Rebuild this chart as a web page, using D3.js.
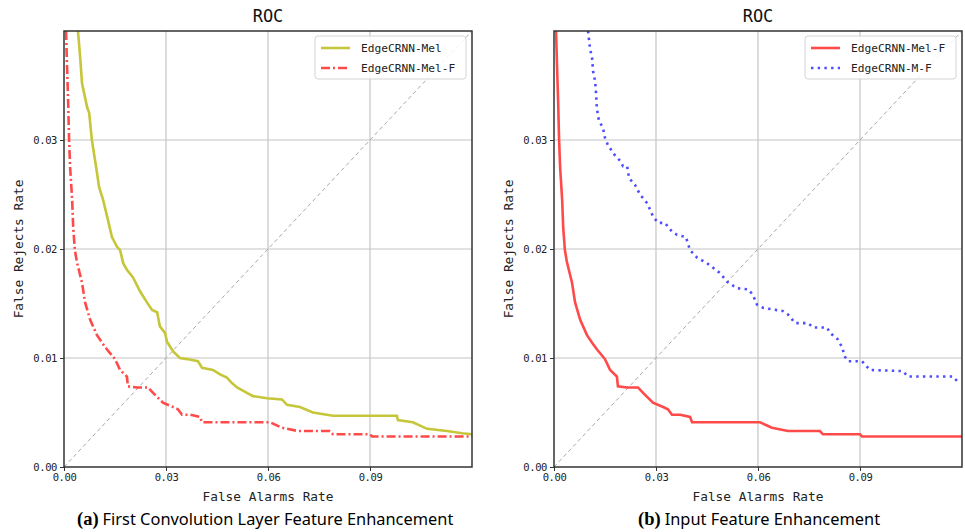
<!DOCTYPE html>
<html>
<head>
<meta charset="utf-8">
<script src="https://cdn.jsdelivr.net/npm/d3@7"></script>
<style>
  body { margin: 0; background: #fff; }
  svg { display: block; }
</style>
</head>
<body>
<div id="chart-container"></div>
<script>
// axis ticks
const xTicks = [0, 0.03, 0.06, 0.09];
const yTicks = [0, 0.01, 0.02, 0.03];

// EdgeCRNN-Mel  [false alarms, false rejects]
const edgeMel = [
  [0.0041, 0.0400], [0.0047, 0.0378], [0.0053, 0.0352], [0.0068, 0.0330],
  [0.0074, 0.0325], [0.0082, 0.0300], [0.0097, 0.0270], [0.0103, 0.0257],
  [0.0115, 0.0245], [0.0129, 0.0227], [0.0141, 0.0211], [0.0156, 0.0202],
  [0.0165, 0.0199], [0.0174, 0.0187], [0.0185, 0.0181], [0.0203, 0.0174],
  [0.0224, 0.0161], [0.0244, 0.0151], [0.0259, 0.0144], [0.0274, 0.0142],
  [0.0282, 0.0129], [0.0297, 0.0123], [0.0303, 0.0115], [0.0321, 0.0106],
  [0.0341, 0.0100], [0.0362, 0.0099], [0.0394, 0.0097], [0.0406, 0.0091],
  [0.0438, 0.0089], [0.0459, 0.0085], [0.0479, 0.0082], [0.0494, 0.0077],
  [0.0509, 0.0073], [0.0538, 0.0068], [0.0556, 0.0065], [0.0597, 0.0063],
  [0.0641, 0.0062], [0.0656, 0.0057], [0.0694, 0.0055], [0.0732, 0.0050],
  [0.0791, 0.0047], [0.0979, 0.0047], [0.0982, 0.0043], [0.1026, 0.0041],
  [0.1068, 0.0035], [0.1126, 0.0033], [0.1171, 0.0031], [0.1200, 0.0030]
];

// EdgeCRNN-Mel-F
const edgeMelF = [
  [0.0006, 0.0400], [0.0009, 0.0367], [0.0012, 0.0337], [0.0015, 0.0300],
  [0.0018, 0.0275], [0.0024, 0.0245], [0.0027, 0.0220], [0.0032, 0.0199],
  [0.0038, 0.0188], [0.0053, 0.0169], [0.0062, 0.0151], [0.0077, 0.0135],
  [0.0097, 0.0121], [0.0112, 0.0114], [0.0126, 0.0108], [0.0150, 0.0099],
  [0.0165, 0.0089], [0.0185, 0.0083], [0.0188, 0.0074], [0.0215, 0.0073],
  [0.0247, 0.0073], [0.0262, 0.0068], [0.0291, 0.0059], [0.0321, 0.0055],
  [0.0335, 0.0053], [0.0347, 0.0048], [0.0371, 0.0048], [0.0400, 0.0046],
  [0.0406, 0.0041], [0.0606, 0.0041], [0.0641, 0.0036], [0.0688, 0.0033],
  [0.0782, 0.0033], [0.0791, 0.0030], [0.0900, 0.0030], [0.0906, 0.0028],
  [0.1200, 0.0028]
];

// EdgeCRNN-M-F
const edgeMF = [
  [0.0100, 0.0400], [0.0106, 0.0384], [0.0112, 0.0375], [0.0115, 0.0363],
  [0.0121, 0.0354], [0.0124, 0.0341], [0.0126, 0.0329], [0.0132, 0.0318],
  [0.0144, 0.0311], [0.0150, 0.0302], [0.0159, 0.0295], [0.0179, 0.0286],
  [0.0194, 0.0281], [0.0203, 0.0276], [0.0215, 0.0276], [0.0221, 0.0265],
  [0.0238, 0.0259], [0.0253, 0.0250], [0.0274, 0.0242], [0.0291, 0.0230],
  [0.0306, 0.0224], [0.0326, 0.0224], [0.0347, 0.0216], [0.0362, 0.0213],
  [0.0388, 0.0211], [0.0400, 0.0199], [0.0421, 0.0192], [0.0450, 0.0187],
  [0.0488, 0.0178], [0.0509, 0.0170], [0.0538, 0.0164], [0.0571, 0.0163],
  [0.0585, 0.0158], [0.0597, 0.0149], [0.0615, 0.0146], [0.0674, 0.0143],
  [0.0688, 0.0140], [0.0709, 0.0132], [0.0747, 0.0132], [0.0762, 0.0128],
  [0.0803, 0.0128], [0.0812, 0.0123], [0.0835, 0.0117], [0.0847, 0.0110],
  [0.0856, 0.0101], [0.0865, 0.0097], [0.0906, 0.0097], [0.0929, 0.0089],
  [0.1026, 0.0088], [0.1041, 0.0083], [0.1174, 0.0083], [0.1188, 0.0078]
];

let width = 965;
let height = 532;
let plotW = 408;
let plotH = 436;
let plotTop = 31;

const mono = "'DejaVu Sans Mono', monospace";

var svg = d3
  .select("#chart-container")
  .append("svg")
  .attr("width", width)
  .attr("height", height);

const panels = [
  {
    left: 64,
    tag: "(a)",
    caption: "First Convolution Layer Feature Enhancement",
    capX: 77,
    series: [
      { name: "EdgeCRNN-Mel", data: edgeMel, color: "#c6c63a", dash: null, w: 2.6 },
      { name: "EdgeCRNN-Mel-F", data: edgeMelF, color: "#ff4a4a", dash: "9,3,2,3", w: 2.6 }
    ]
  },
  {
    left: 554,
    tag: "(b)",
    caption: "Input Feature Enhancement",
    capX: 638,
    series: [
      { name: "EdgeCRNN-Mel-F", data: edgeMelF, color: "#ff4a4a", dash: null, w: 2.6 },
      { name: "EdgeCRNN-M-F", data: edgeMF, color: "#4d4dff", dash: "2.4,4.3", w: 2.6 }
    ]
  }
];

panels.forEach((p, i) => {
  let g = svg.append("g").attr("transform", `translate(${p.left}, ${plotTop})`);

  let xScale = d3.scaleLinear().domain([0, 0.12]).range([0, plotW]);
  let yScale = d3.scaleLinear().domain([0, 0.04]).range([plotH, 0]);

  // clip
  svg.append("clipPath")
    .attr("id", "clip" + i)
    .append("rect")
    .attr("width", plotW)
    .attr("height", plotH);

  // grid
  g.append("g")
    .selectAll("line")
    .data(xTicks.slice(1))
    .enter()
    .append("line")
    .attr("x1", (d) => xScale(d))
    .attr("x2", (d) => xScale(d))
    .attr("y1", 0)
    .attr("y2", plotH)
    .style("stroke", "#c4c4c4")
    .style("stroke-width", 1.2);

  g.append("g")
    .selectAll("line")
    .data(yTicks.slice(1))
    .enter()
    .append("line")
    .attr("x1", 0)
    .attr("x2", plotW)
    .attr("y1", (d) => yScale(d))
    .attr("y2", (d) => yScale(d))
    .style("stroke", "#c4c4c4")
    .style("stroke-width", 1.2);

  let plot = g.append("g").attr("clip-path", `url(#clip${i})`);

  // chance diagonal
  plot.append("line")
    .attr("x1", xScale(0))
    .attr("y1", yScale(0))
    .attr("x2", xScale(0.12))
    .attr("y2", yScale(0.04))
    .style("stroke", "#a8a8a8")
    .style("stroke-width", 1)
    .style("stroke-dasharray", "4,3");

  p.series.forEach((s) => {
    let line = d3
      .line()
      .x((d) => xScale(d[0]))
      .y((d) => yScale(d[1]));

    plot.append("path")
      .datum(s.data)
      .attr("d", line)
      .style("fill", "none")
      .style("stroke", s.color)
      .style("stroke-width", s.w)
      .style("stroke-dasharray", s.dash)
      .style("stroke-linejoin", "miter");
  });

  // axes
  let xAxis = g.append("g")
    .attr("transform", `translate(0, ${plotH})`)
    .call(d3.axisBottom(xScale).tickValues(xTicks).tickFormat(d3.format(".2f")).tickSize(4).tickPadding(3));
  let yAxis = g.append("g")
    .call(d3.axisLeft(yScale).tickValues(yTicks).tickFormat(d3.format(".2f")).tickSize(4).tickPadding(3));

  [xAxis, yAxis].forEach((a) => {
    a.select(".domain").remove();
    a.selectAll("line").style("stroke", "#333");
    a.selectAll("text")
      .style("font-family", mono)
      .style("font-size", "10.5px")
      .style("letter-spacing", "-0.4px")
      .style("fill", "#222");
  });

  // frame
  g.append("rect")
    .attr("width", plotW)
    .attr("height", plotH)
    .style("fill", "none")
    .style("stroke", "#333")
    .style("stroke-width", 1.5);

  // title
  g.append("text")
    .attr("x", plotW / 2)
    .attr("y", -9)
    .style("text-anchor", "middle")
    .style("font-family", mono)
    .style("font-size", "17px")
    .style("fill", "#111")
    .text("ROC");

  // axis labels
  g.append("text")
    .attr("x", plotW / 2)
    .attr("y", plotH + 34)
    .style("text-anchor", "middle")
    .style("font-family", mono)
    .style("font-size", "12.8px")
    .style("fill", "#222")
    .text("False Alarms Rate");

  g.append("text")
    .attr("transform", "rotate(-90)")
    .attr("x", -plotH / 2)
    .attr("y", -41)
    .style("text-anchor", "middle")
    .style("font-family", mono)
    .style("font-size", "12.8px")
    .style("fill", "#222")
    .text("False Rejects Rate");

  // legend
  let lg = g.append("g").attr("transform", `translate(${plotW - 157}, 5)`);
  lg.append("rect")
    .attr("width", 151)
    .attr("height", 43)
    .attr("rx", 3)
    .style("fill", "#fff")
    .style("fill-opacity", 0.85)
    .style("stroke", "#d4d4d4");

  p.series.forEach((s, k) => {
    let yy = 12 + k * 20;
    lg.append("line")
      .attr("x1", 6)
      .attr("x2", 35)
      .attr("y1", yy)
      .attr("y2", yy)
      .style("stroke", s.color)
      .style("stroke-width", s.w)
      .style("stroke-dasharray", s.dash);
    lg.append("text")
      .attr("x", 46)
      .attr("y", yy + 4)
      .style("font-family", mono)
      .style("font-size", "11.2px")
      .style("fill", "#222")
      .text(s.name);
  });

  // caption
  let cap = svg.append("text")
    .attr("x", p.capX)
    .attr("y", 525);
  cap.append("tspan")
    .style("font-family", "'Liberation Serif', serif")
    .style("font-weight", "bold")
    .style("font-size", "18.5px")
    .text(p.tag);
  cap.append("tspan")
    .attr("dx", 4)
    .style("font-family", "'Noto Sans', sans-serif")
    .style("font-size", "16.4px")
    .text(p.caption);
});
</script>
</body>
</html>
